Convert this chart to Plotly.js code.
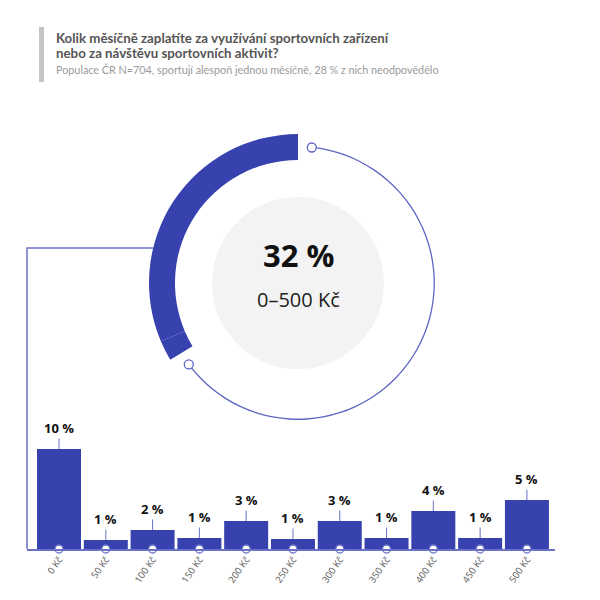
<!DOCTYPE html>
<html>
<head>
<meta charset="utf-8">
<script src="https://cdn.plot.ly/plotly-3.0.1.min.js"></script>
<style>
  html, body { margin: 0; padding: 0; background: #ffffff; }
  #chart { width: 600px; height: 600px; }
</style>
</head>
<body>
<div id="chart"></div>
<script>
(function () {
  "use strict";

  // Balken: Anteil pro Betrag (v %)
  var CATEGORIES = [
    "0 Kč", "50 Kč", "100 Kč", "150 Kč", "200 Kč", "250 Kč",
    "300 Kč", "350 Kč", "400 Kč", "450 Kč", "500 Kč"
  ];
  var SHARES = [10.0, 0.9, 1.9, 1.1, 2.8, 1.0, 2.8, 1.1, 3.8, 1.1, 4.9];

  // Kruh: dva segmenty silného oblouku (v %), konce tenkého oblouku (ve stupních)
  var ARC_SEGMENTS = [31.4, 2.2];
  var RING_ENDS = [126.7, 354.2];

  var TITLE_LINES = [
    "Kolik měsíčně zaplatíte za využívání sportovních zařízení",
    "nebo za návštěvu sportovních aktivit?"
  ];
  var SUBTITLE = "Populace ČR N=704, sportují alespoň jednou měsíčně, 28 % z nich neodpovědělo";
  var CENTER_VALUE = "32 %";
  var CENTER_LABEL = "0–500 Kč";

  var BLUE = "#3842af";
  var LINE_BLUE = "#6a72c6";
  var FONT = "Open Sans, sans-serif";
  var TITLE_FONT = "Lato, sans-serif";

  // silný oblouk – segmenty za sebou od 12 hodin proti směru
  var segTheta = [];
  var segWidth = [];
  var acc = 0;
  ARC_SEGMENTS.forEach(function (p) {
    var w = p * 3.6;
    segTheta.push(acc + w / 2);
    segWidth.push(w);
    acc += w;
  });

  var ringWidth = RING_ENDS[1] - RING_ENDS[0];
  var ringCenter = RING_ENDS[0] + ringWidth / 2;

  var traces = [
    {
      type: "bar",
      x: CATEGORIES,
      y: SHARES,
      marker: { color: BLUE, line: { width: 0 } },
      hoverinfo: "skip"
    },
    {
      type: "scatter",
      mode: "markers",
      x: CATEGORIES,
      y: CATEGORIES.map(function () { return 0; }),
      marker: {
        size: 8,
        color: "#ffffff",
        line: { color: LINE_BLUE, width: 1.3 }
      },
      cliponaxis: false,
      hoverinfo: "skip"
    },
    // šedý střed
    {
      type: "barpolar",
      r: [86],
      theta: [0],
      width: [360],
      marker: { color: "#f3f3f3", line: { width: 0 } },
      hoverinfo: "skip"
    },
    // tenký oblouk
    {
      type: "barpolar",
      base: [135.6],
      r: [1.3],
      theta: [ringCenter],
      width: [ringWidth],
      marker: { color: "#5d66c2", line: { width: 0 } },
      hoverinfo: "skip"
    },
    // silný oblouk
    {
      type: "barpolar",
      base: segTheta.map(function () { return 123; }),
      r: segTheta.map(function () { return 26; }),
      theta: segTheta,
      width: segWidth,
      marker: { color: BLUE, line: { width: 0 } },
      hoverinfo: "skip"
    },
    {
      type: "scatterpolar",
      mode: "markers",
      r: RING_ENDS.map(function () { return 136.2; }),
      theta: RING_ENDS,
      marker: {
        size: 9,
        color: "#ffffff",
        line: { color: "#5d66c2", width: 1.3 }
      },
      cliponaxis: false,
      hoverinfo: "skip"
    }
  ];

  var annotations = SHARES.map(function (v, i) {
    return {
      x: CATEGORIES[i],
      y: v,
      xref: "x",
      yref: "y",
      text: "<b>" + Math.round(v) + " %</b>",
      showarrow: true,
      arrowhead: 0,
      arrowwidth: 1,
      arrowcolor: LINE_BLUE,
      ax: 0,
      ay: -21,
      font: { family: FONT, size: 13, color: "#111111" }
    };
  });

  // titulek po řádcích
  TITLE_LINES.forEach(function (line, i) {
    annotations.push({
      xref: "paper", yref: "paper",
      x: 54 / 600, y: 1 - (38 + i * 15.5) / 600,
      xanchor: "left", yanchor: "middle",
      showarrow: false,
      text: "<b>" + line + "</b>",
      font: { family: TITLE_FONT, size: 13.3, color: "#555555" }
    });
  });

  annotations.push({
    xref: "paper", yref: "paper",
    x: 54 / 600, y: 1 - 69 / 600,
    xanchor: "left", yanchor: "middle",
    showarrow: false,
    text: SUBTITLE,
    font: { family: TITLE_FONT, size: 10.8, color: "#9a9a9a" }
  });

  annotations.push({
    xref: "paper", yref: "paper",
    x: 298 / 600, y: 1 - 255 / 600,
    xanchor: "center", yanchor: "middle",
    showarrow: false,
    text: "<b>" + CENTER_VALUE + "</b>",
    font: { family: FONT, size: 31, color: "#111111" }
  });

  annotations.push({
    xref: "paper", yref: "paper",
    x: 298 / 600, y: 1 - 299 / 600,
    xanchor: "center", yanchor: "middle",
    showarrow: false,
    text: CENTER_LABEL,
    font: { family: FONT, size: 20, color: "#222222" }
  });

  var layout = {
    width: 600,
    height: 600,
    margin: { l: 0, r: 0, t: 0, b: 0 },
    paper_bgcolor: "#ffffff",
    plot_bgcolor: "rgba(0,0,0,0)",
    showlegend: false,
    bargap: 0.06,

    xaxis: {
      domain: [27 / 600, 555 / 600],
      range: [-0.684, 10.6],
      type: "category",
      showgrid: false,
      zeroline: false,
      showline: true,
      linecolor: LINE_BLUE,
      linewidth: 1.5,
      ticks: "",
      tickangle: -55,
      tickfont: { family: FONT, size: 9.5, color: "#555555" },
      fixedrange: true
    },

    yaxis: {
      domain: [51 / 600, 171 / 600],
      range: [0, 12],
      visible: false,
      fixedrange: true
    },

    polar: {
      domain: {
        x: [(298 - 150) / 600, (298 + 150) / 600],
        y: [(317 - 150) / 600, (317 + 150) / 600]
      },
      bgcolor: "rgba(0,0,0,0)",
      radialaxis: { range: [0, 150], visible: false, showgrid: false },
      angularaxis: {
        rotation: 90,
        direction: "counterclockwise",
        visible: false,
        showgrid: false
      }
    },

    shapes: [
      // šedý pruh u titulku
      {
        type: "rect",
        xref: "paper", yref: "paper",
        x0: 39 / 600, x1: 44 / 600,
        y0: 1 - 82 / 600, y1: 1 - 27 / 600,
        fillcolor: "#c4c4c4",
        line: { width: 0 }
      },
      // spojnice od oblouku k ose
      {
        type: "path",
        xref: "paper", yref: "paper",
        path: "M " + (153 / 600) + " " + (1 - 248 / 600) +
          " L " + (27 / 600) + " " + (1 - 248 / 600) +
          " L " + (27 / 600) + " " + (1 - 549 / 600),
        line: { color: LINE_BLUE, width: 1.5 },
        layer: "below"
      }
    ],

    annotations: annotations
  };

  Plotly.newPlot("chart", traces, layout, { displayModeBar: false, staticPlot: true });
})();
</script>
</body>
</html>
